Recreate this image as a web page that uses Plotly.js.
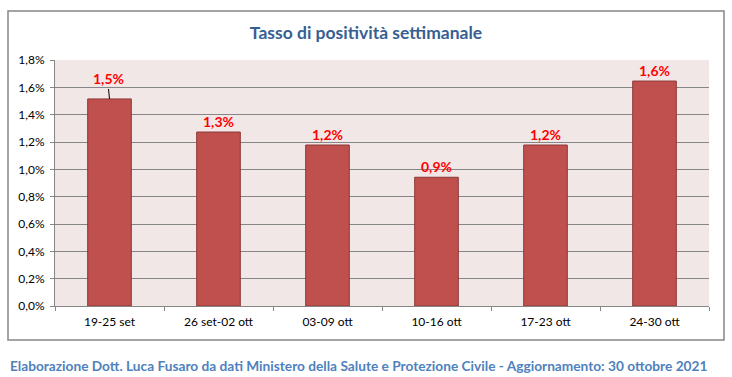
<!DOCTYPE html>
<html>
<head>
<meta charset="utf-8">
<script src="https://cdn.plot.ly/plotly-3.0.1.min.js"></script>
<style>html,body{margin:0;padding:0;background:#fff;}#chart{width:732px;height:377px;}</style>
</head>
<body>
<div id="chart"></div>
<script>
const categories = ["19-25 set", "26 set-02 ott", "03-09 ott", "10-16 ott", "17-23 ott", "24-30 ott"];
const positivity = [0.01515, 0.01273, 0.01178, 0.00942, 0.01178, 0.01646];
const valueLabels = ["1,5%", "1,3%", "1,2%", "0,9%", "1,2%", "1,6%"];
const yTickValues = [0, 0.002, 0.004, 0.006, 0.008, 0.010, 0.012, 0.014, 0.016, 0.018];

const FONT = "Lato, 'Open Sans', sans-serif";
const L = 55, R = 23, T = 60, B = 71, W = 732, H = 377;
const pw = W - L - R, ph = H - T - B;
const px = x => (x - L) / pw;
const py = y => (H - B - y) / ph;

const annotations = categories.map((c, i) => {
  const a = {
    x: c, y: positivity[i], xref: 'x', yref: 'y',
    text: '<b>' + valueLabels[i] + '</b>',
    font: {family: FONT, size: 14, color: '#FF0000'},
    showarrow: false, yanchor: 'bottom', yshift: 0
  };
  if (i === 0) {
    a.showarrow = true; a.arrowhead = 0; a.arrowwidth = 1; a.arrowcolor = '#000';
    a.ax = -1; a.ay = -10; a.standoff = 0; a.yanchor = 'bottom';
  }
  return a;
});
annotations.push({
  xref: 'paper', yref: 'paper', x: px(8), y: py(365), xanchor: 'left', yanchor: 'middle',
  text: '<b>Elaborazione Dott. Luca Fusaro da dati Ministero della Salute e Protezione Civile - Aggiornamento: 30 ottobre 2021</b>',
  font: {family: FONT, size: 13.7, color: '#4F81BD'}, showarrow: false
});

const data = [{
  type: 'bar', x: categories, y: positivity,
  marker: {color: '#C0504D', line: {color: '#8C3836', width: 1}},
  hoverinfo: 'skip'
}];

const layout = {
  width: W, height: H,
  margin: {l: L, r: R, t: T, b: B, pad: 0},
  paper_bgcolor: '#FFFFFF', plot_bgcolor: '#F2E7E7',
  separators: ',.',
  bargap: 0.6,
  showlegend: false,
  title: {
    text: '<b>Tasso di positività settimanale</b>',
    font: {family: FONT, size: 17.5, color: '#376092'},
    x: 0.5, xref: 'container', xanchor: 'center',
    y: 1 - 33 / H, yref: 'container', yanchor: 'middle'
  },
  xaxis: {
    type: 'category', tickson: 'boundaries', ticks: 'outside', ticklen: 4, tickcolor: '#868686',
    showline: true, linecolor: '#868686', linewidth: 1, showgrid: false,
    ticklabelstandoff: 5,
    tickfont: {family: FONT, size: 12, color: '#000'}, fixedrange: true
  },
  yaxis: {
    range: [0, 0.018], tickvals: yTickValues, tickformat: '.1%',
    ticks: 'outside', ticklen: 4, tickcolor: '#868686',
    showline: true, linecolor: '#868686', linewidth: 1,
    showgrid: true, gridcolor: '#868686', gridwidth: 1, zeroline: false,
    ticklabelstandoff: 3,
    tickfont: {family: FONT, size: 12, color: '#000'}, fixedrange: true
  },
  shapes: [{
    type: 'rect', xref: 'paper', yref: 'paper',
    x0: px(8), x1: px(724), y0: py(340), y1: py(11),
    line: {color: '#868686', width: 1.5}, fillcolor: 'rgba(0,0,0,0)', layer: 'below'
  }],
  annotations: annotations
};

Plotly.newPlot('chart', data, layout, {displayModeBar: false, staticPlot: true});
</script>
</body>
</html>
